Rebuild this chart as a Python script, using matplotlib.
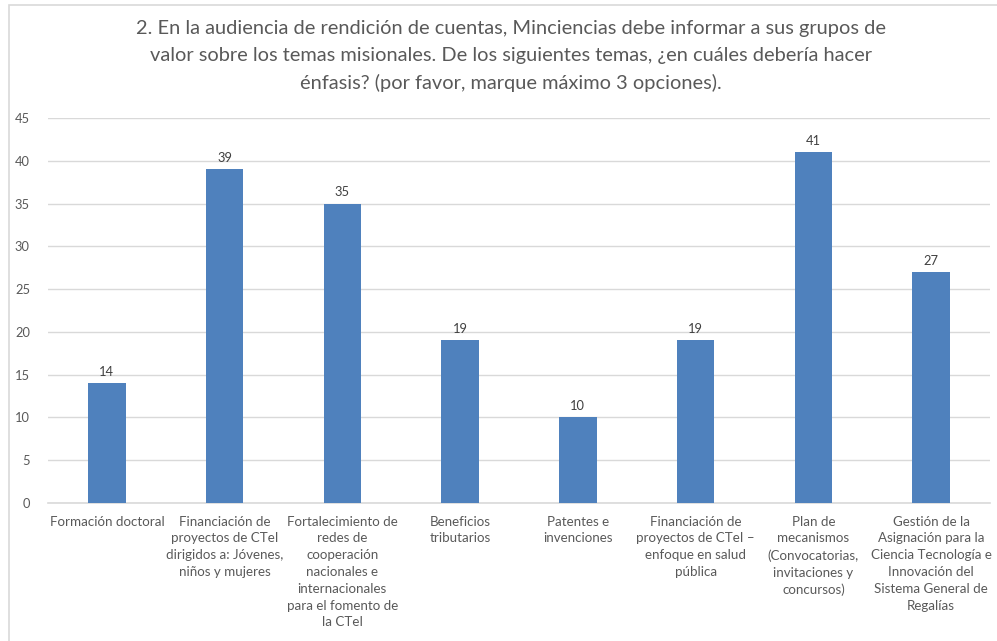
import matplotlib.pyplot as plt
from matplotlib.patches import Rectangle

plt.rcParams['font.family'] = ['Lato', 'DejaVu Sans']

titulo = ("2. En la audiencia de rendición de cuentas, Minciencias debe informar a sus grupos de\n"
          "valor sobre los temas misionales. De los siguientes temas, ¿en cuáles debería hacer\n"
          "énfasis? (por favor, marque máximo 3 opciones).")

temas = [
    "Formación doctoral",
    "Financiación de\nproyectos de CTeI\ndirigidos a: Jóvenes,\nniños y mujeres",
    "Fortalecimiento de\nredes de\ncooperación\nnacionales e\ninternacionales\npara el fomento de\nla CTeI",
    "Beneficios\ntributarios",
    "Patentes e\ninvenciones",
    "Financiación de\nproyectos de CTeI –\nenfoque en salud\npública",
    "Plan de\nmecanismos\n(Convocatorias,\ninvitaciones y\nconcursos)",
    "Gestión de la\nAsignación para la\nCiencia Tecnología e\nInnovación del\nSistema General de\nRegalías",
]
respuestas = [14, 39, 35, 19, 10, 19, 41, 27]
yticks = [0, 5, 10, 15, 20, 25, 30, 35, 40, 45]

W, H = 997, 641
fig = plt.figure(figsize=(W / 100, H / 100), dpi=100)
fig.patches.append(Rectangle((9 / W, -0.1), 1.2, 1 - 5 / H + 0.1, transform=fig.transFigure,
                             fill=False, edgecolor='#d9d9d9', linewidth=1.2))

ax = fig.add_axes([48 / W, 1 - 503 / H, (990 - 48) / W, (503 - 118) / H])
x = range(len(temas))
bars = ax.bar(x, respuestas, width=0.32, color='#4f81bd', zorder=3)
for b, v in zip(bars, respuestas):
    ax.text(b.get_x() + b.get_width() / 2, v + 0.6, str(v), ha='center', va='bottom',
            fontsize=9.3, color='#404040')

ax.set_xlim(-0.5, len(temas) - 0.5)
ax.set_ylim(0, 45)
ax.set_yticks(yticks)
ax.set_xticks(list(x))
ax.set_xticklabels(temas, fontsize=9.6, color='#595959', linespacing=1.48, va='top')
ax.tick_params(axis='y', length=0, pad=13, labelsize=9.3, labelcolor='#595959')
ax.tick_params(axis='x', length=0, pad=9)
ax.grid(axis='y', color='#d9d9d9', linewidth=1, zorder=0)
for s in ['top', 'right', 'left']:
    ax.spines[s].set_visible(False)
ax.spines['bottom'].set_color('#d9d9d9')
ax.spines['bottom'].set_linewidth(1.2)

fig.text(511 / W, 1 - 20 / H, titulo, ha='center', va='top', fontsize=14.4,
         color='#595959', linespacing=1.68)

fig.savefig('out.png', dpi=100)
